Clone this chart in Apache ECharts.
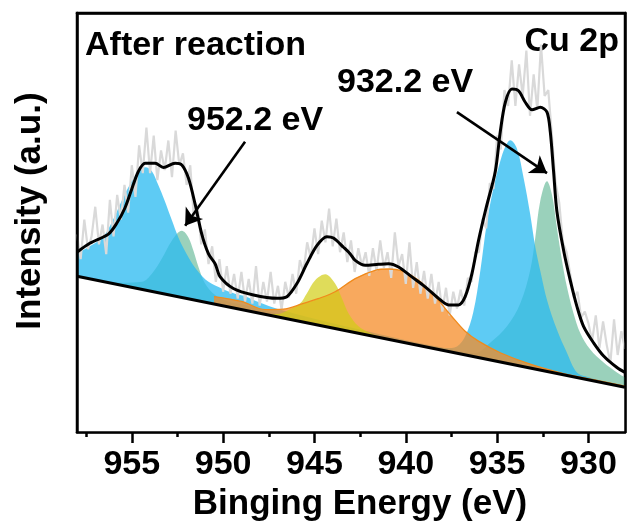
<!DOCTYPE html>
<html><head><meta charset="utf-8">
<script src="https://cdn.jsdelivr.net/npm/echarts@6/dist/echarts.min.js"></script>
<style>html,body{margin:0;padding:0;background:#fff}#c{width:627px;height:527px}</style>
</head><body><div id="c"></div><script>
const FONT = '"Liberation Sans", Arial, sans-serif';
const xMin = 928, xMax = 958, yMin = 0, yMax = 424;
const majorTicks = [930, 935, 940, 945, 950, 955];
const minorTicks = [932.5, 937.5, 942.5, 947.5, 952.5, 957.5];

// raw (noisy) spectrum
const rawSpectrum = [
[958.0,200],[957.8,175],[957.6,215],[957.4,185],[957.2,198],[957.0,228],[956.8,190],[956.6,210],[956.4,180],[956.2,235],
[956.0,198],[955.8,240],[955.6,215],[955.4,250],[955.2,222],[955.0,270],[954.8,238],[954.6,290],[954.4,262],[954.2,308],
[954.0,262],[953.8,300],[953.6,255],[953.4,285],[953.2,265],[953.0,295],[952.8,258],[952.6,305],[952.4,270],[952.2,282],
[952.0,250],[951.8,270],[951.6,215],[951.4,230],[951.2,190],[951.0,205],[950.8,170],[950.6,188],[950.4,152],[950.2,175],
[950.0,142],[949.8,168],[949.6,140],[949.4,160],[949.2,135],[949.0,162],[948.8,132],[948.6,155],[948.4,130],[948.2,168],
[948.0,128],[947.8,152],[947.6,132],[947.4,162],[947.2,130],[947.0,148],[946.8,124],[946.6,152],[946.4,136],[946.2,160],
[946.0,140],[945.8,174],[945.6,162],[945.4,192],[945.2,176],[945.0,206],[944.8,180],[944.6,214],[944.4,192],[944.2,226],
[944.0,188],[943.8,216],[943.6,182],[943.4,202],[943.2,172],[943.0,194],[942.8,162],[942.6,186],[942.4,168],[942.2,182],
[942.0,158],[941.8,186],[941.6,163],[941.4,194],[941.2,166],[941.0,182],[940.8,156],[940.6,202],[940.4,168],[940.2,180],
[940.0,150],[939.8,192],[939.6,146],[939.4,172],[939.2,140],[939.0,163],[938.8,135],[938.6,160],[938.4,130],[938.2,152],
[938.0,122],[937.8,146],[937.6,118],[937.4,142],[937.2,125],[937.0,144],[936.8,128],[936.6,156],[936.4,152],[936.2,182],
[936.0,182],[935.8,216],[935.6,206],[935.4,252],[935.2,246],[935.0,300],[934.8,286],[934.6,346],[934.4,330],[934.2,376],
[934.0,330],[933.8,372],[933.6,340],[933.4,386],[933.2,320],[933.0,362],[932.8,326],[932.6,392],[932.4,340],[932.2,346],
[932.0,300],[931.8,252],[931.6,232],[931.4,192],[931.2,182],[931.0,160],[930.8,136],[930.6,142],[930.4,116],[930.2,122],
[930.0,110],[929.8,92],[929.6,118],[929.4,85],[929.2,112],[929.0,88],[928.8,70],[928.6,114],[928.4,78],[928.2,102],
[928.0,84]
];

// fitted envelope
const envelope = [
[958.0,182],[957.3,191],[956.28,200.3],[955.8,212],[955.37,227],[955.0,246],[954.64,263.7],[954.27,272],[953.72,272],
[953.27,267.7],[952.63,272],[952.26,270.3],[951.9,257],[951.53,230.3],[951.17,200.3],[950.8,180.3],[950.44,170.3],
[950.16,157],[949.44,145.3],[948.34,138.7],[947.06,135.3],[946.51,137],[945.96,150.3],[945.42,170.3],[944.87,188.7],
[944.32,197.7],[943.96,196.3],[943.41,187],[943.04,180.3],[942.77,173.7],[942.22,168.7],[941.5,169.7],[940.95,170.3],
[940.4,167],[939.67,157],[938.94,147],[938.21,135.3],[937.66,128.7],[937.11,128.7],[936.75,137],[936.38,160.3],
[936.02,193.7],[935.6,227],[935.1,263.7],[934.83,303.7],[934.55,333.7],[934.19,347],[933.83,345.3],[933.46,333.7],
[933.09,326],[932.64,328.7],[932.27,323.7],[932.09,303.7],[931.91,263.7],[931.73,223.7],[931.36,183.7],[931.0,153.7],
[930.63,127],[930.27,107],[929.72,90.3],[929.17,77],[928.44,65.3],[928.0,60.3]
];

// linear background
const background = [[958, 157.7], [928, 45.3]];

// component peaks
const peakBlue952 = [
[958.0,181],[957.4,187],[956.6,197],[956.1,212],[955.55,234],[955.0,254],[954.55,265],[954.25,268],[953.9,264],
[953.55,250],[953.2,234],[952.8,214],[952.45,197],[951.9,177],[951.35,162],[950.8,152],[950.05,145],[949.35,140],
[948.8,137.5],[948.0,131],[947.0,124.5],[946.0,119.5],[944.0,110],[942.0,101.5],[940.0,93],[938.0,85.5],[936.0,77.5],
[934.0,69.5],[932.0,61.5],[930.0,53.5],[928.0,46]
];
const peakTeal952 = [
[957.0,152],[955.5,151],[954.45,152],[953.9,160.3],[953.36,175.3],[952.81,193.7],[952.26,203.7],[951.9,197],
[951.63,183.7],[951.35,167],[950.99,150.3],[950.44,138.7],[949.71,132],[948.8,128.7],[947.5,122],[946.0,115],
[944.0,107],[940.0,91.5],[936.0,76],[932.0,61],[928.0,45.8]
];
const peakYellow944 = [
[948.5,122.6],[947.5,119.5],[947.0,119.6],[946.24,125.3],[945.78,130.3],[945.42,140.3],[944.96,153.7],[944.41,159.7],
[943.87,150.3],[943.5,135.3],[943.14,120.3],[942.59,107],[942.04,101],[941.5,97],[940.5,92.5],[939.5,88.6]
];
const peakOrange941 = [
[950.5,137.1],[949.0,132.2],[947.7,124],[946.7,124.5],[945.69,129.7],[944.8,135],[943.87,142],[942.77,155.3],
[941.68,163.7],[940.95,165],[940.21,163],[939.3,153.7],[938.39,137],[937.48,117],[936.75,102],[936.02,92],
[934.83,80.3],[933.19,68.7],[931.36,59.2],[929.53,52.3],[928.0,46.5]
];
const peakBlue934 = [
[938.5,86.1],[937.8,85],[937.2,86.7],[936.75,97],[936.31,121],[935.93,162],[935.56,212],[935.2,247],[934.83,274],
[934.55,289],[934.28,295.3],[933.92,287],[933.55,257],[933.19,220.3],[932.91,187],[932.6,160],[932.27,133.7],
[931.73,103.7],[931.18,80.3],[930.63,60.3],[930.0,55.5],[929.0,50.5],[928.0,46]
];
const peakTeal932 = [
[938.5,85.2],[937.3,81.5],[936.2,80],[935.38,90.3],[934.46,107],[933.73,130.3],[933.19,163.7],[932.91,197],
[932.64,233.7],[932.27,253.7],[932.0,240.3],[931.73,207],[931.45,173.7],[931.18,147],[930.82,120.3],[930.45,100.3],
[929.91,83.7],[929.17,70.3],[928.44,60.3],[928.0,55.3]
];

// arrows [from, to] in data coordinates
const arrows = [
  [[948.8, 293.7], [952.08, 208.7]],
  [[937.2, 323.7], [932.27, 262]]
];

const chart = echarts.init(document.getElementById('c'), null, {renderer: 'canvas'});

function peak(data, fill, lineColor, lineWidth) {
  return {
    type: 'line', data: data, smooth: 0.35, symbol: 'none', silent: true,
    lineStyle: {color: lineColor || fill, width: lineWidth || 0},
    areaStyle: {color: fill, opacity: 1}
  };
}

const axisCommon = {type: 'value', min: xMin, max: xMax, inverse: true, z: 10};

chart.setOption({
  animation: false,
  backgroundColor: '#fff',
  grid: {left: 77, right: 2, top: 13, bottom: 90, show: true, borderColor: '#000', borderWidth: 2.5, backgroundColor: 'transparent'},
  xAxis: [
    Object.assign({}, axisCommon, {
      position: 'bottom',
      axisLine: {show: true, lineStyle: {color: '#000', width: 2.5}},
      axisTick: {show: true, length: 11, lineStyle: {color: '#000', width: 2.5}, customValues: majorTicks},
      axisLabel: {show: true, customValues: majorTicks, margin: 16, color: '#000', fontSize: 34, fontWeight: 'bold', fontFamily: FONT},
      splitLine: {show: false},
      name: 'Binging Energy (eV)', nameLocation: 'middle', nameGap: 50,
      nameTextStyle: {color: '#000', fontSize: 35, fontWeight: 'bold', fontFamily: FONT, padding: [0, 0, 0, 18]}
    }),
    Object.assign({}, axisCommon, {
      position: 'bottom',
      axisLine: {show: false},
      axisTick: {show: true, length: 5, lineStyle: {color: '#000', width: 2.5}, customValues: minorTicks},
      axisLabel: {show: false},
      splitLine: {show: false}
    }),
    Object.assign({}, axisCommon, {
      position: 'top',
      axisLine: {show: true, lineStyle: {color: '#000', width: 2.5}},
      axisTick: {show: false}, axisLabel: {show: false}, splitLine: {show: false}
    })
  ],
  yAxis: [
    {type: 'value', min: yMin, max: yMax, position: 'left', z: 10,
     axisLine: {show: true, lineStyle: {color: '#000', width: 2.5}},
     axisTick: {show: false}, axisLabel: {show: false}, splitLine: {show: false},
     name: 'Intensity (a.u.)', nameLocation: 'middle', nameGap: 29,
     nameTextStyle: {color: '#000', fontSize: 35, fontWeight: 'bold', fontFamily: FONT, padding: [0, 0, 0, 23]}},
    {type: 'value', min: yMin, max: yMax, position: 'right', z: 10,
     axisLine: {show: true, lineStyle: {color: '#000', width: 2.5}},
     axisTick: {show: false}, axisLabel: {show: false}, splitLine: {show: false}}
  ],
  series: [
    {type: 'line', data: rawSpectrum, symbol: 'none', silent: true, lineStyle: {color: '#d9d9d9', width: 2.2}},
    peak(peakTeal952, 'rgba(100,185,150,0.65)'),
    peak(peakTeal932, 'rgba(100,185,150,0.65)'),
    peak(peakBlue952, 'rgba(40,185,240,0.75)'),
    peak(peakBlue934, 'rgba(40,185,240,0.75)'),
    peak(peakOrange941, 'rgba(245,140,40,0.75)', '#f08a1c', 1.3),
    peak(peakYellow944, 'rgba(210,205,20,0.7)'),
    {type: 'line', data: background, symbol: 'none', silent: true,
     lineStyle: {width: 0}, areaStyle: {color: '#fff', opacity: 1}},
    {type: 'line', data: background, symbol: 'none', silent: true,
     lineStyle: {color: '#000', width: 3}},
    {type: 'line', data: envelope, smooth: 0.3, symbol: 'none', silent: true,
     lineStyle: {color: '#000', width: 3}},
    {type: 'line', data: [], symbol: 'none', silent: true,
     markLine: {silent: true, symbol: ['none', 'arrow'], symbolSize: 16,
       label: {show: false}, lineStyle: {color: '#000', width: 2.6, type: 'solid', opacity: 1},
       emphasis: {disabled: true},
       data: arrows.map(a => [{coord: a[0]}, {coord: a[1]}])}}
  ],
  graphic: [
    {type: 'text', x: 85, y: 45.5, silent: true, style: {text: 'After reaction', font: 'bold 34px ' + FONT, fill: '#000', align: 'left', verticalAlign: 'middle'}},
    {type: 'text', x: 619, y: 41.5, silent: true, style: {text: 'Cu 2p', font: 'bold 34px ' + FONT, fill: '#000', align: 'right', verticalAlign: 'middle'}},
    {type: 'text', x: 187, y: 121, silent: true, style: {text: '952.2 eV', font: 'bold 34px ' + FONT, fill: '#000', align: 'left', verticalAlign: 'middle'}},
    {type: 'text', x: 337, y: 82.5, silent: true, style: {text: '932.2 eV', font: 'bold 34px ' + FONT, fill: '#000', align: 'left', verticalAlign: 'middle'}}
  ]
});
</script></body></html>
